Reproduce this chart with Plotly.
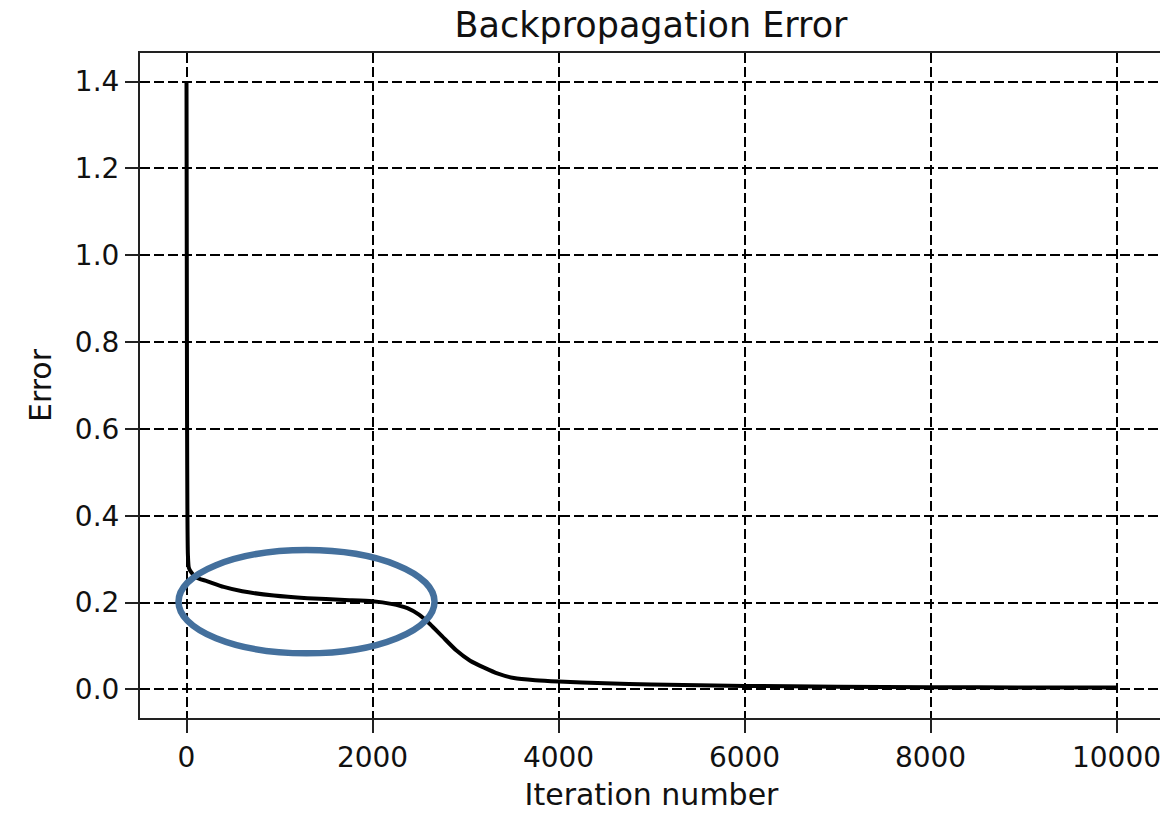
import plotly.graph_objects as go

# Data
iterations = [0, 3, 6, 10, 15, 25, 50, 100, 225, 400, 600, 940, 1300, 1700, 2000,
              2200, 2375, 2500, 2620, 2750, 2900, 3050, 3200, 3350, 3520, 3750,
              4000, 4500, 5000, 6000, 7000, 8000, 9000, 10000]
error = [1.40, 1.00, 0.62, 0.40, 0.31, 0.28, 0.27, 0.258, 0.249, 0.236, 0.226, 0.216,
         0.210, 0.206, 0.203, 0.197, 0.187, 0.172, 0.150, 0.122, 0.090, 0.066, 0.050,
         0.036, 0.026, 0.021, 0.018, 0.014, 0.011, 0.008, 0.006, 0.005, 0.0045, 0.004]

x_ticks = [0, 2000, 4000, 6000, 8000, 10000]
y_ticks = [0.0, 0.2, 0.4, 0.6, 0.8, 1.0, 1.2, 1.4]

# highlighted region (ellipse) in data units
ellipse_x = [-86, 2667]
ellipse_y = [0.083, 0.321]

FONT = "DejaVu Sans"

fig = go.Figure()
fig.add_trace(go.Scatter(x=iterations, y=error, mode="lines",
                         line=dict(color="black", width=4, shape="spline", smoothing=0.6),
                         showlegend=False))

fig.add_shape(type="circle", xref="x", yref="y",
              x0=ellipse_x[0], x1=ellipse_x[1], y0=ellipse_y[0], y1=ellipse_y[1],
              line=dict(color="#44709D", width=6.5), layer="above")

axis_common = dict(
    showline=True, mirror=True, linecolor="#222222", linewidth=2,
    ticks="outside", ticklen=13, tickwidth=1.8, tickcolor="#222222",
    showgrid=True, gridcolor="black", gridwidth=2.2, griddash="10px,4px",
    zeroline=False, automargin=False,
    tickfont=dict(family=FONT, size=28, color="#111111"),
)

fig.update_xaxes(range=[-500, 10500], tickvals=x_ticks,
                 ticktext=[str(v) for v in x_ticks],
                 title=dict(text="Iteration number", font=dict(family=FONT, size=30, color="#111111"),
                            standoff=11),
                 **axis_common)
fig.update_yaxes(range=[-0.066, 1.466], tickvals=y_ticks,
                 ticktext=[f"{v:.1f}" for v in y_ticks],
                 title=dict(text="Error", font=dict(family=FONT, size=30, color="#111111"),
                            standoff=14),
                 **axis_common)

fig.update_layout(
    width=1160, height=805,
    margin=dict(l=132, r=5, t=45, b=95),
    plot_bgcolor="white", paper_bgcolor="white",
    title=dict(text="Backpropagation Error", x=643 / 1160, xanchor="center",
               y=1 - 4 / 805, yref="container", yanchor="top", pad=dict(t=0, b=0),
               font=dict(family=FONT, size=35, color="#111111")),
)

fig.write_html("out.html")
